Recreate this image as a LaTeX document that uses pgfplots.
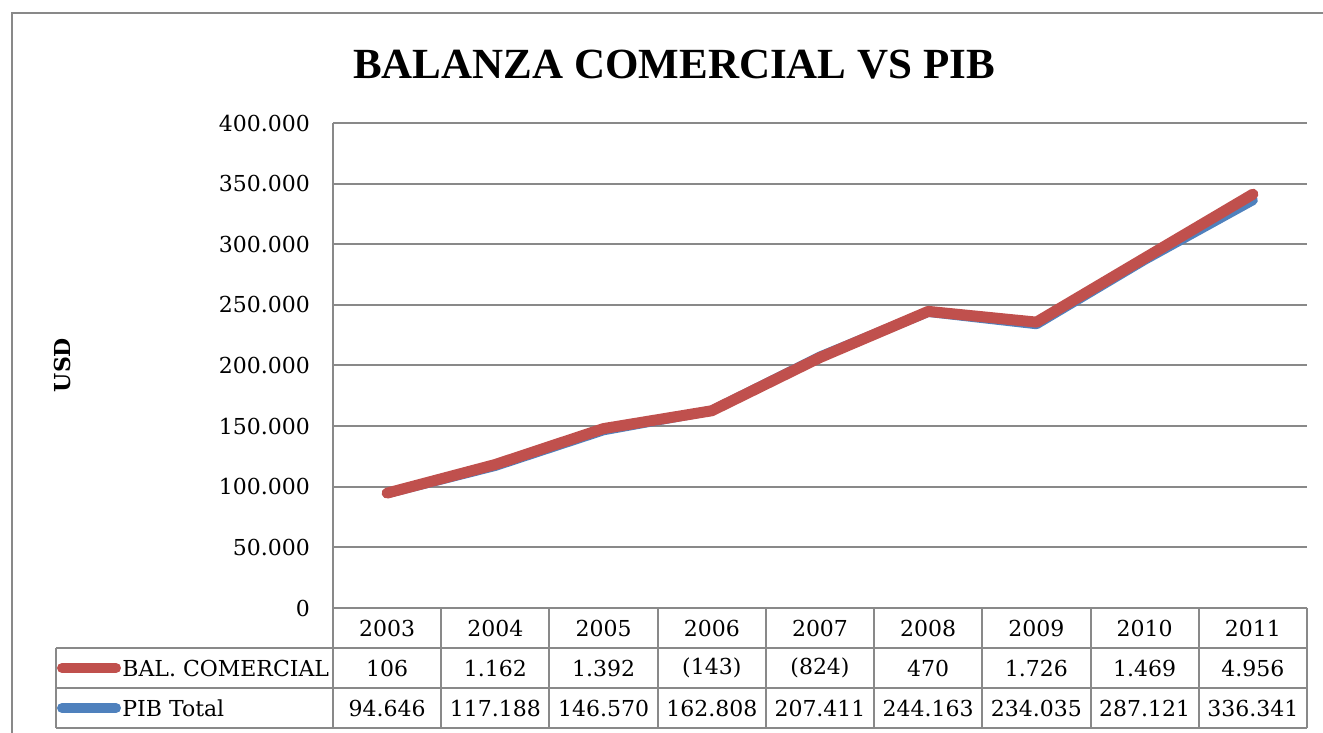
\documentclass[border=0pt]{standalone}
\usepackage{fontspec}
\setmainfont{DejaVu Serif}
\newfontfamily\titlefont{Liberation Serif}
\usepackage{pgfplots}
\pgfplotsset{compat=1.18}
\definecolor{balred}{HTML}{C0504D}
\definecolor{pibblue}{HTML}{4F81BD}
\definecolor{gridgray}{HTML}{898989}

\begin{document}
\begin{tikzpicture}
\useasboundingbox (0,0) rectangle (661.5pt,366.5pt);
% outer chart frame (cropped at right and bottom)
\draw[gridgray, line width=1pt] (6pt,-5pt) -- (6pt,360pt) -- (670pt,360pt);
\node[font=\titlefont\bfseries\fontsize{21.5}{26}\selectfont] at (337pt,334pt) {BALANZA COMERCIAL VS PIB};
\node[font=\bfseries\fontsize{11}{13}\selectfont, rotate=90] at (31pt,184pt) {USD};

\begin{axis}[
  at={(166.5pt,62.5pt)}, anchor=south west,
  scale only axis, width=487pt, height=242.5pt,
  xmin=0.5, xmax=9.5, ymin=0, ymax=400000,
  ytick={0,50000,100000,150000,200000,250000,300000,350000,400000},
  xtick=\empty,
  ymajorgrids, grid style={gridgray, line width=1pt},
  axis line style={draw=none},
  major tick length=0pt,
  scaled y ticks=false,
  yticklabel style={font=\fontsize{11}{13}\selectfont, xshift=-8pt},
  y tick label style={/pgf/number format/.cd, fixed, precision=0, 1000 sep={.}, assume math mode=true},
  clip=false
]
% PIB Total
\addplot[pibblue, line width=5pt, line cap=round, line join=round] coordinates {
  (1,94646) (2,117188) (3,146570) (4,162808) (5,207411)
  (6,244163) (7,234035) (8,287121) (9,336341)};
% BAL. COMERCIAL, stacked on PIB Total (PIB + BAL)
\addplot[balred, line width=5.5pt, line cap=round, line join=round] coordinates {
  (1,94752) (2,118350) (3,147962) (4,162665) (5,206587)
  (6,244633) (7,235761) (8,288590) (9,341297)};
\end{axis}

% data table
\begin{scope}[gridgray, line width=1pt]
  \draw (166.5pt,305pt) -- (166.5pt,2.5pt);
  \draw (28pt,42.5pt) -- (653.5pt,42.5pt);
  \draw (28pt,22.5pt) -- (653.5pt,22.5pt);
  \draw (28pt,2.5pt) -- (653.5pt,2.5pt);
  \draw (28pt,42.5pt) -- (28pt,2.5pt);
  \foreach \k in {1,...,9}
    \draw ({166.5pt+\k*54.111pt},62.5pt) -- ({166.5pt+\k*54.111pt},2.5pt);
\end{scope}
\draw[balred, line width=5pt, line cap=round] (31pt,32.5pt) -- (58pt,32.5pt);
\draw[pibblue, line width=5pt, line cap=round] (31pt,12.5pt) -- (58pt,12.5pt);
\begin{scope}[font=\fontsize{11}{13}\selectfont]
  \node[anchor=west, inner sep=0pt] at (61pt,32.5pt) {BAL. COMERCIAL};
  \node[anchor=west, inner sep=0pt] at (61pt,12.5pt) {PIB Total};
  \foreach \t [count=\i] in {2003,2004,2005,2006,2007,2008,2009,2010,2011}
    \node at ({166.5pt+(\i-0.5)*54.111pt},52.5pt) {\t};
  \foreach \t [count=\i] in {106,1.162,1.392,(143),(824),470,1.726,1.469,4.956}
    \node at ({166.5pt+(\i-0.5)*54.111pt},32.5pt) {\t};
  \foreach \t [count=\i] in {94.646,117.188,146.570,162.808,207.411,244.163,234.035,287.121,336.341}
    \node at ({166.5pt+(\i-0.5)*54.111pt},12.5pt) {\t};
\end{scope}
\end{tikzpicture}
\end{document}
